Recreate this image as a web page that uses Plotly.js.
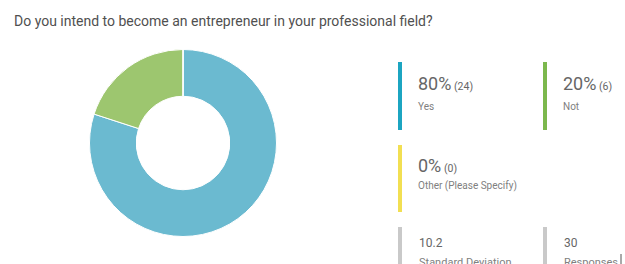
<!DOCTYPE html>
<html>
<head>
<meta charset="utf-8">
<script src="https://cdn.plot.ly/plotly-3.0.1.min.js"></script>
<style>html,body{margin:0;padding:0;background:#fff;overflow:hidden}#chart{width:625px;height:264px}</style>
</head>
<body>
<div id="chart"></div>
<script>
const categories = ['Yes', 'Not', 'Other (Please Specify)'];
const counts = [24, 6, 0];
const percents = [80, 20, 0];
const statLabels = ['Standard Deviation', 'Responses'];
const statValues = ['10.2', '30'];

const W = 625, H = 264;
const px = x => x / W;
const py = y => 1 - y / H;

const sliceColors = ['#6bbad0', '#9dc66f', '#f0dc50'];
const barColors = ['#1ca5c1', '#7cb84d', '#f2df52'];
const grey = '#c9c9c9';
const font = 'Roboto, "Open Sans", sans-serif';

// legend item layout (pixel positions)
const items = [
  {bx: 400, top: 62, bottom: 130, big: 83, small: 106.5},
  {bx: 545, top: 62, bottom: 130, big: 83, small: 106.5},
  {bx: 400, top: 145, bottom: 212, big: 165, small: 186}
];
const statsPos = [{bx: 400, top: 227}, {bx: 545, top: 227}];

const shapes = [];
const annotations = [];
categories.forEach((c, i) => {
  const it = items[i];
  shapes.push({type: 'rect', xref: 'paper', yref: 'paper',
    x0: px(it.bx - 2), x1: px(it.bx + 2), y0: py(it.bottom), y1: py(it.top),
    fillcolor: barColors[i], line: {width: 0}});
  annotations.push({xref: 'paper', yref: 'paper', x: px(it.bx + 16), y: py(it.big),
    xanchor: 'left', yanchor: 'middle', showarrow: false,
    text: percents[i] + '%<span style="font-size:10.5px"> (' + counts[i] + ')</span>',
    font: {family: font, size: 18, color: '#666666'}});
  annotations.push({xref: 'paper', yref: 'paper', x: px(it.bx + 16), y: py(it.small),
    xanchor: 'left', yanchor: 'middle', showarrow: false,
    text: c, font: {family: font, size: 10, color: '#808080'}});
});
statLabels.forEach((s, i) => {
  const p = statsPos[i];
  shapes.push({type: 'rect', xref: 'paper', yref: 'paper',
    x0: px(p.bx - 2), x1: px(p.bx + 2), y0: py(275), y1: py(p.top),
    fillcolor: grey, line: {width: 0}});
  annotations.push({xref: 'paper', yref: 'paper', x: px(p.bx + 17), y: py(243),
    xanchor: 'left', yanchor: 'middle', showarrow: false,
    text: statValues[i], font: {family: font, size: 12, color: '#666666'}});
  annotations.push({xref: 'paper', yref: 'paper', x: px(p.bx + 17), y: py(262.5),
    xanchor: 'left', yanchor: 'middle', showarrow: false,
    text: s, font: {family: font, size: 11, color: '#808080'}});
});
// text-cursor mark at the right edge of "Responses"
shapes.push({type: 'line', xref: 'paper', yref: 'paper',
  x0: px(621), x1: px(621), y0: py(264), y1: py(254),
  line: {color: '#555555', width: 1}});

const data = [{
  type: 'pie',
  labels: categories,
  values: counts,
  hole: 0.5,
  sort: false,
  direction: 'clockwise',
  rotation: 0,
  textinfo: 'none',
  hoverinfo: 'none',
  marker: {colors: sliceColors, line: {color: '#ffffff', width: 1}},
  domain: {x: [px(89.5), px(276.5)], y: [py(236.5), py(49.5)]},
  showlegend: false
}];

const layout = {
  width: W, height: H,
  margin: {l: 0, r: 0, t: 0, b: 0},
  paper_bgcolor: '#ffffff',
  plot_bgcolor: '#ffffff',
  showlegend: false,
  title: {text: 'Do you intend to become an entrepreneur in your professional field?',
    x: px(14), xanchor: 'left', y: py(21.5), yanchor: 'middle', xref: 'paper', yref: 'paper',
    font: {family: font, size: 14, color: '#505050'}},
  shapes: shapes,
  annotations: annotations
};

Plotly.newPlot('chart', data, layout, {displayModeBar: false, staticPlot: true});
</script>
</body>
</html>
